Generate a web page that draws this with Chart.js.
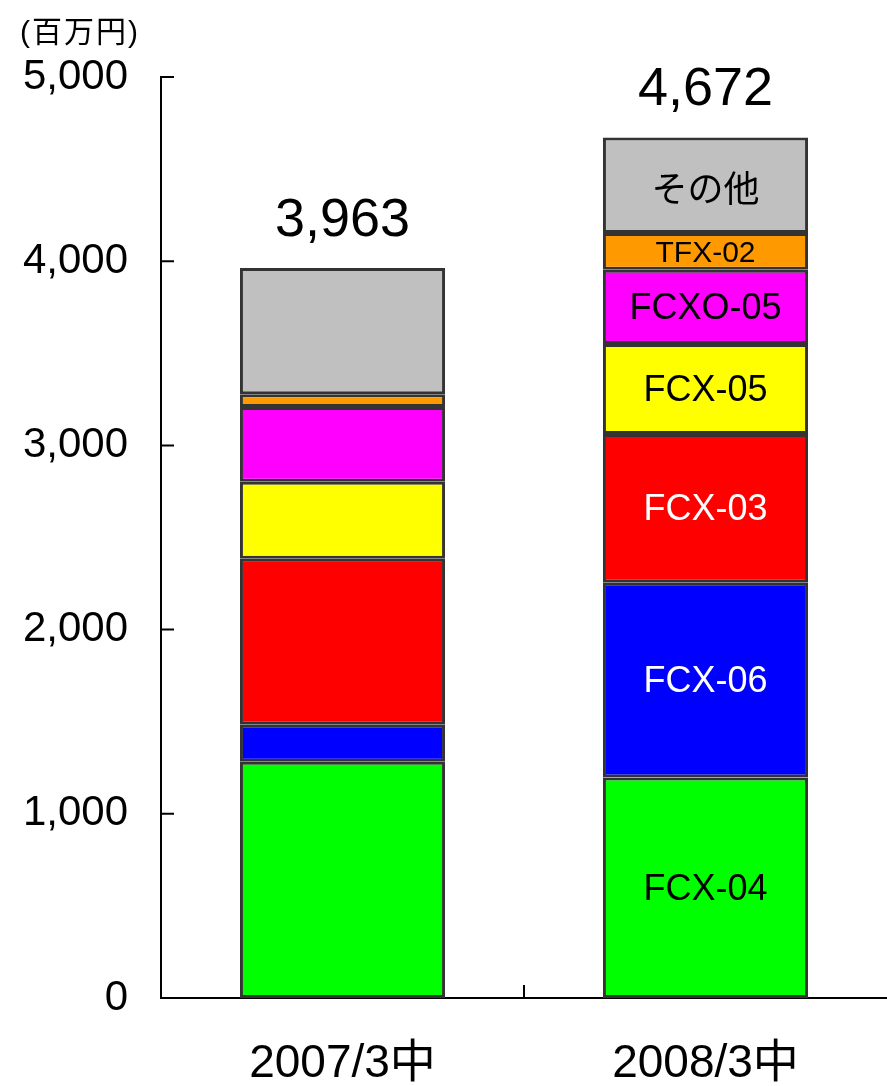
<!DOCTYPE html>
<html>
<head>
<meta charset="utf-8">
<script src="https://cdn.jsdelivr.net/npm/chart.js@4/dist/chart.umd.min.js"></script>
<style>
  html, body { margin: 0; padding: 0; background: #fff; }
  #wrap { position: relative; width: 887px; height: 1086px; }
  #unit { position: absolute; left: 20px; top: 7px; font: 30px "Liberation Sans", "Noto Sans CJK JP", sans-serif; letter-spacing: 2px; color: #000; }
</style>
</head>
<body>
<div id="wrap">
  <canvas id="grafico" width="887" height="1086"></canvas>
  <div id="unit">(百万円)</div>
</div>
<script>
const categorie = ["2007/3中", "2008/3中"];
const serie = ["FCX-04", "FCX-06", "FCX-03", "FCX-05", "FCXO-05", "TFX-02", "その他"];
const colori = ["#00FF00", "#0000FF", "#FF0000", "#FFFF00", "#FF00FF", "#FF9900", "#C0C0C0"];
const coloriTesto = ["#000", "#fff", "#fff", "#000", "#000", "#000", "#000"];
// valori per serie: [2007/3中, 2008/3中]
const fcx04 = [1282, 1197];
const fcx06 = [201, 1057];
const fcx03 = [902, 808];
const fcx05 = [418, 489];
const fcxo05 = [406, 402];
const tfx02 = [69, 200];
const altri = [685, 519];
const valori = [fcx04, fcx06, fcx03, fcx05, fcxo05, tfx02, altri];
const tickY = [0, 1000, 2000, 3000, 4000, 5000];

const FONT = '"Liberation Sans", "Noto Sans CJK JP", sans-serif';

// etichette dentro i segmenti (solo seconda barra) e totali sopra
const etichette = {
  id: "etichette",
  afterDatasetsDraw(chart) {
    const ctx = chart.ctx;
    ctx.save();
    ctx.textAlign = "center";
    ctx.textBaseline = "middle";
    chart.data.datasets.forEach((ds, i) => {
      const el = chart.getDatasetMeta(i).data[1];
      const mid = (el.y + el.base) / 2;
      ctx.fillStyle = coloriTesto[i];
      ctx.font = (i === 5 ? "30px " : "36px ") + FONT;
      ctx.fillText(ds.label, el.x, mid + (i === 6 ? 7 : 2));
    });
    const ultimo = chart.getDatasetMeta(chart.data.datasets.length - 1);
    ctx.fillStyle = "#000";
    ctx.font = "54px " + FONT;
    categorie.forEach((c, j) => {
      const tot = valori.reduce((s, v) => s + v[j], 0);
      const el = ultimo.data[j];
      ctx.fillText(tot.toLocaleString("en-US"), el.x, el.y - 47);
    });
    ctx.restore();
  },
};

// tacche interne agli assi
const tacche = {
  id: "tacche",
  afterDraw(chart) {
    const ctx = chart.ctx;
    const y = chart.scales.y, x = chart.scales.x;
    ctx.save();
    ctx.strokeStyle = "#000";
    ctx.lineWidth = 2;
    ctx.beginPath();
    tickY.forEach((v) => {
      const py = y.getPixelForValue(v);
      ctx.moveTo(x.left, py);
      ctx.lineTo(x.left + 13, py);
    });
    const px = (x.getPixelForValue(0) + x.getPixelForValue(1)) / 2;
    ctx.moveTo(px, y.bottom);
    ctx.lineTo(px, y.bottom - 13);
    ctx.stroke();
    ctx.restore();
  },
};

const ctx = document.getElementById("grafico").getContext("2d");
new Chart(ctx, {
  type: "bar",
  data: {
    labels: categorie,
    datasets: serie.map((s, i) => ({
      label: s,
      data: valori[i],
      backgroundColor: colori[i],
      borderColor: "#333333",
      borderWidth: 3,
      borderSkipped: false,
      barPercentage: 0.565,
      categoryPercentage: 1,
    })),
  },
  options: {
    responsive: false,
    animation: false,
    layout: { padding: { top: 77, right: 0, left: 0, bottom: 0 } },
    plugins: { legend: { display: false }, tooltip: { enabled: false } },
    scales: {
      x: {
        stacked: true,
        grid: { display: false, drawTicks: false },
        border: { display: true, color: "#000", width: 2 },
        ticks: { color: "#000", padding: 39, font: { size: 46, family: FONT } },
        afterFit(s) { s.height = 88; },
      },
      y: {
        stacked: true,
        min: 0,
        max: 5000,
        afterBuildTicks(s) { s.ticks = tickY.map((v) => ({ value: v })); },
        grid: { display: false, drawTicks: false },
        border: { display: true, color: "#000", width: 2 },
        ticks: {
          color: "#000",
          padding: 33,
          font: { size: 42, family: FONT },
          callback: (v) => v.toLocaleString("en-US"),
        },
        afterFit(s) { s.width = 161; },
      },
    },
  },
  plugins: [etichette, tacche],
});
</script>
</body>
</html>
